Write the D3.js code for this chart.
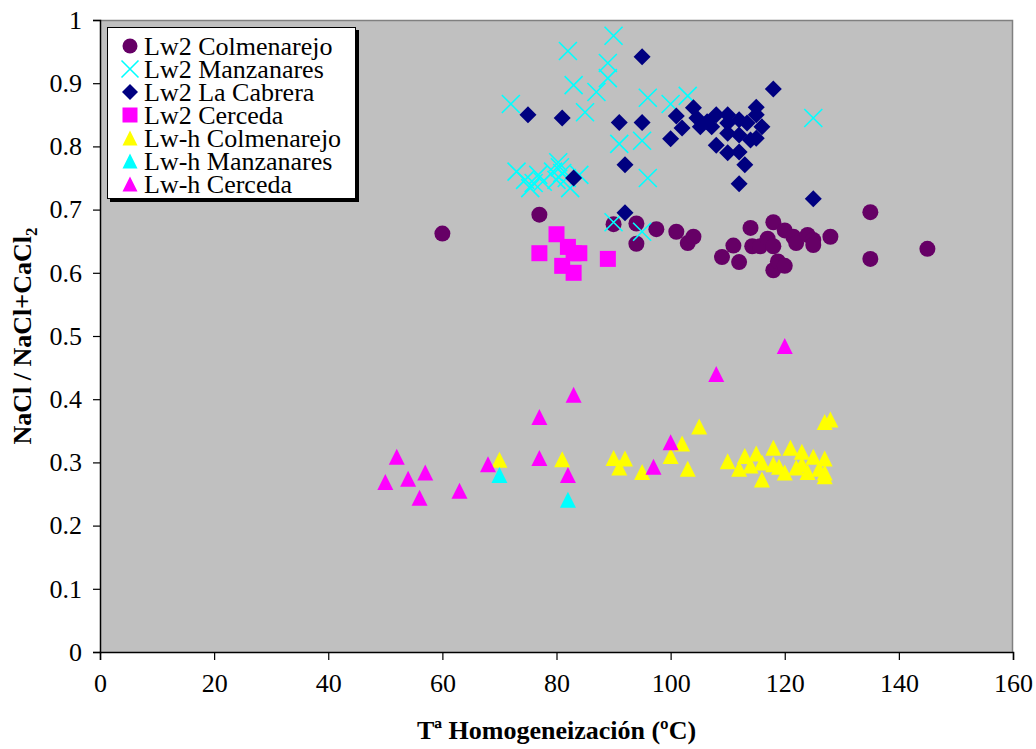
<!DOCTYPE html>
<html>
<head>
<meta charset="utf-8">
<script src="https://cdn.jsdelivr.net/npm/d3@7"></script>
<style>
  html, body { margin: 0; padding: 0; background: #fff; }
  svg { display: block; font-family: "Liberation Serif", "Times New Roman", serif; }
</style>
</head>
<body>
<svg id="chart" width="1036" height="749"></svg>
<script>
// Homogenisation temperature (ºC) and NaCl/(NaCl+CaCl2) ratio per fluid-inclusion group

const lw2ColmenarejoT = [60, 77, 90, 94, 94, 97.5, 101, 103, 104, 109, 111, 112, 114, 114.3, 115.7, 117, 118, 118, 118, 118.8, 120, 120, 121.5, 122, 124, 125, 125, 128, 135, 135, 145];
const lw2ColmenarejoR = [0.662, 0.692, 0.677, 0.678, 0.646, 0.669, 0.665, 0.647, 0.657, 0.625, 0.643, 0.617, 0.671, 0.642, 0.642, 0.654, 0.680, 0.642, 0.604, 0.618, 0.667, 0.611, 0.657, 0.647, 0.660, 0.652, 0.644, 0.657, 0.696, 0.622, 0.638];

const lw2ManzanaresT = [90, 82, 89, 89, 83, 87, 85, 72, 96, 100, 103, 125, 91, 95, 96, 73, 74.5, 75.4, 76.8, 77.6, 80.3, 80.6, 79.4, 81, 81.8, 82.4, 84, 80, 76, 90, 95];
const lw2ManzanaresR = [0.975, 0.951, 0.932, 0.908, 0.897, 0.886, 0.854, 0.867, 0.877, 0.867, 0.880, 0.845, 0.804, 0.809, 0.750, 0.760, 0.747, 0.734, 0.755, 0.744, 0.775, 0.767, 0.760, 0.758, 0.750, 0.734, 0.755, 0.747, 0.742, 0.680, 0.665];

const lw2CabreraT = [95, 118, 75, 81, 91, 95, 101, 102, 100, 92, 112, 125, 83, 92, 104, 104.6, 105.2, 106.4, 107.2, 108, 110, 110, 110, 108, 110, 112, 112, 112, 113.4, 114, 115, 115, 115, 116, 113];
const lw2CabreraR = [0.942, 0.891, 0.850, 0.845, 0.838, 0.838, 0.848, 0.829, 0.812, 0.771, 0.741, 0.717, 0.750, 0.695, 0.861, 0.845, 0.831, 0.839, 0.831, 0.850, 0.850, 0.837, 0.821, 0.802, 0.790, 0.791, 0.818, 0.842, 0.837, 0.810, 0.813, 0.862, 0.850, 0.831, 0.771];

const lw2CercedaT = [80, 77, 82, 84, 81, 83, 89, 83];
const lw2CercedaR = [0.661, 0.631, 0.641, 0.631, 0.611, 0.600, 0.622, 0.631];

const lwhColmenarejoT = [70, 81, 90, 92, 91, 95, 100, 102, 103, 105, 110, 112, 113, 114, 115, 116, 116, 118, 118, 119, 120, 121, 122, 123, 123, 124, 125, 126, 127, 127, 127, 127, 128];
const lwhColmenarejoR = [0.304, 0.305, 0.307, 0.306, 0.292, 0.285, 0.310, 0.330, 0.290, 0.357, 0.302, 0.290, 0.310, 0.295, 0.314, 0.300, 0.273, 0.323, 0.297, 0.293, 0.284, 0.323, 0.292, 0.317, 0.297, 0.285, 0.309, 0.290, 0.306, 0.284, 0.278, 0.364, 0.368];

const lwhManzanaresT = [70, 82];
const lwhManzanaresR = [0.280, 0.241];

const lwhCercedaT = [52, 50, 54, 57, 56, 63, 68, 77, 77, 83, 82, 108, 120, 100, 97];
const lwhCercedaR = [0.309, 0.269, 0.274, 0.284, 0.244, 0.255, 0.297, 0.372, 0.307, 0.407, 0.280, 0.440, 0.484, 0.332, 0.293];

const seriesNames = ["Lw2 Colmenarejo", "Lw2 Manzanares", "Lw2 La Cabrera", "Lw2 Cerceda", "Lw-h Colmenarejo", "Lw-h Manzanares", "Lw-h Cerceda"];
const xTicks = [0, 20, 40, 60, 80, 100, 120, 140, 160];
const yTicks = [0, 0.1, 0.2, 0.3, 0.4, 0.5, 0.6, 0.7, 0.8, 0.9, 1];

const series = [
  { name: seriesNames[0], t: lw2ColmenarejoT, r: lw2ColmenarejoR, shape: "circle", color: "#660066" },
  { name: seriesNames[1], t: lw2ManzanaresT, r: lw2ManzanaresR, shape: "cross", color: "#00FFFF" },
  { name: seriesNames[2], t: lw2CabreraT, r: lw2CabreraR, shape: "diamond", color: "#000080" },
  { name: seriesNames[3], t: lw2CercedaT, r: lw2CercedaR, shape: "square", color: "#FF00FF" },
  { name: seriesNames[4], t: lwhColmenarejoT, r: lwhColmenarejoR, shape: "triangle", color: "#FFFF00" },
  { name: seriesNames[5], t: lwhManzanaresT, r: lwhManzanaresR, shape: "triangle", color: "#00FFFF" },
  { name: seriesNames[6], t: lwhCercedaT, r: lwhCercedaR, shape: "triangle", color: "#FF00FF" }
];

const svg = d3.select("#chart");
const plot = { left: 100, right: 1013, top: 20, bottom: 652 };

const x = d3.scaleLinear().domain([0, 160]).range([plot.left, plot.right]);
const y = d3.scaleLinear().domain([0, 1]).range([plot.bottom, plot.top]);

// plot background and frame
svg.append("rect")
  .attr("x", plot.left).attr("y", plot.top)
  .attr("width", plot.right - plot.left).attr("height", plot.bottom - plot.top)
  .attr("fill", "#C0C0C0");
svg.append("path")
  .attr("d", `M${plot.left},${plot.top + 0.5}H${plot.right - 0.5}V${plot.bottom}`)
  .attr("fill", "none").attr("stroke", "#808080").attr("stroke-width", 1.5);

// axes
const xAxis = svg.append("g")
  .attr("transform", `translate(0,${plot.bottom})`)
  .call(d3.axisBottom(x).tickValues(xTicks).tickSize(8).tickPadding(14).tickFormat(d3.format("d")));
const yAxis = svg.append("g")
  .attr("transform", `translate(${plot.left},0)`)
  .call(d3.axisLeft(y).tickValues(yTicks).tickSize(7).tickPadding(11).tickFormat(d => d === 0 || d === 1 ? String(d) : d3.format(".1f")(d)));

[xAxis, yAxis].forEach(g => {
  g.select(".domain").attr("stroke", "#000").attr("stroke-width", 1.5);
  g.selectAll(".tick line").attr("stroke", "#000").attr("stroke-width", 1.2);
  g.selectAll(".tick text")
    .attr("fill", "#000")
    .style("font-family", "'Liberation Serif', 'Times New Roman', serif")
    .style("font-size", "26px");
});

// marker drawing
function drawMarker(g, shape, color, s) {
  const h = s / 2;
  if (shape === "circle") {
    g.append("circle").attr("r", h).attr("fill", color);
  } else if (shape === "square") {
    g.append("rect").attr("x", -h).attr("y", -h).attr("width", s).attr("height", s).attr("fill", color);
  } else if (shape === "diamond") {
    g.append("path").attr("d", `M0,${-h - 0.5}L${h + 0.5},0L0,${h + 0.5}L${-h - 0.5},0Z`).attr("fill", color);
  } else if (shape === "triangle") {
    g.append("path").attr("d", `M0,${-h}L${h},${h}L${-h},${h}Z`).attr("fill", color);
  } else if (shape === "cross") {
    const c = h + 1;
    g.append("path").attr("d", `M${-c},${-c}L${c},${c}M${c},${-c}L${-c},${c}`)
      .attr("stroke", color).attr("stroke-width", 1.6).attr("fill", "none");
  }
}

const marks = svg.append("g");
series.forEach(s => {
  const gs = marks.append("g").attr("class", "series");
  s.t.forEach((tv, i) => {
    const g = gs.append("g").attr("transform", `translate(${x(tv)},${y(s.r[i])})`);
    drawMarker(g, s.shape, s.color, 16);
  });
});

// legend
const legend = svg.append("g");
legend.append("rect").attr("x", 110).attr("y", 30).attr("width", 249).attr("height", 172).attr("fill", "#000");
legend.append("rect").attr("x", 107.5).attr("y", 27.5).attr("width", 248).attr("height", 171)
  .attr("fill", "#fff").attr("stroke", "#000").attr("stroke-width", 1);
series.forEach((s, i) => {
  const cy = 46 + i * 23;
  const g = legend.append("g").attr("transform", `translate(130,${cy})`);
  drawMarker(g, s.shape, s.color, 15);
  legend.append("text")
    .attr("x", 144).attr("y", cy + 9)
    .style("font-size", "26px")
    .attr("fill", "#000")
    .text(s.name);
});

// axis titles
svg.append("text")
  .attr("x", (plot.left + plot.right) / 2).attr("y", 739)
  .attr("text-anchor", "middle")
  .style("font-size", "26px").style("font-weight", "bold")
  .text("Tª Homogeneización (ºC)");

const yTitle = svg.append("text")
  .attr("transform", `translate(31,${(plot.top + plot.bottom) / 2}) rotate(-90)`)
  .attr("text-anchor", "middle")
  .style("font-size", "26px").style("font-weight", "bold");
yTitle.append("tspan").text("NaCl / NaCl+CaCl");
yTitle.append("tspan").attr("dy", 6).style("font-size", "17px").text("2");
</script>
</body>
</html>
